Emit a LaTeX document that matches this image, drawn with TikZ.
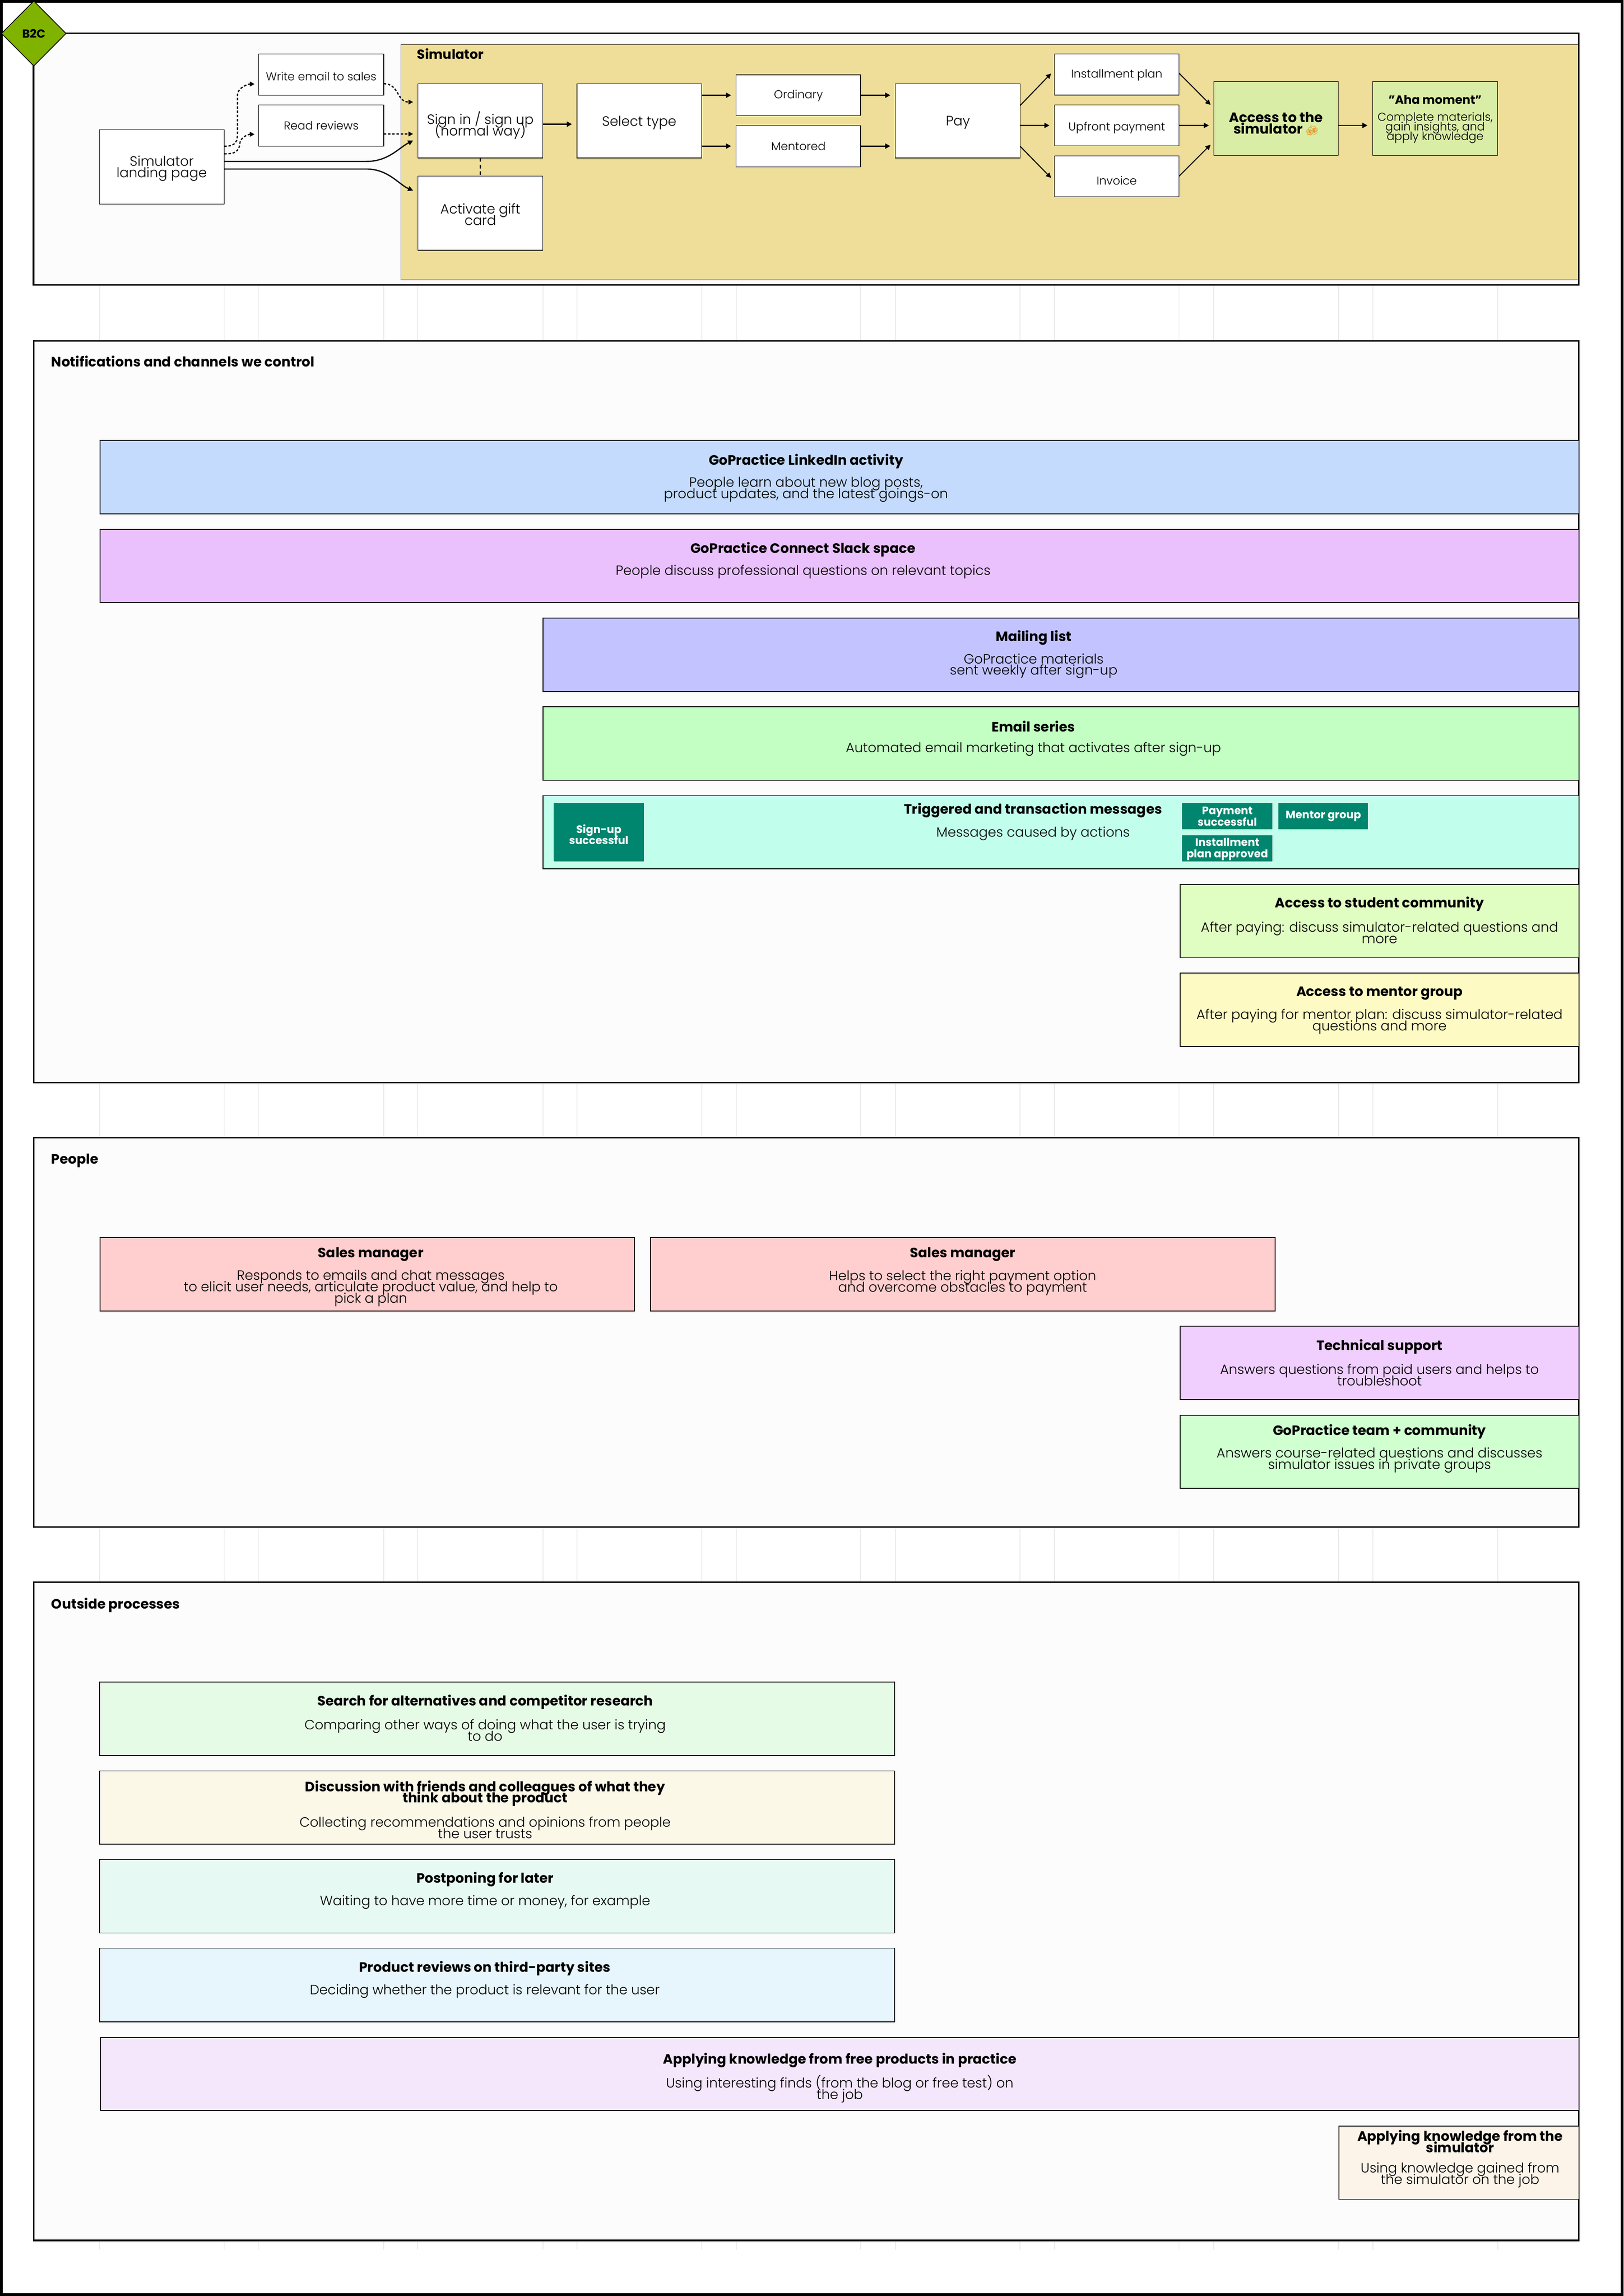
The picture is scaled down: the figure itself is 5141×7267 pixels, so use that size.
\documentclass[tikz,border=0pt]{standalone}
\usepackage{fontspec}
\setmainfont{Poppins}[UprightFont=* Light,BoldFont=* Bold]
\newfontfamily\emojifont{Noto Emoji}
\usetikzlibrary{arrows.meta,calc,shapes.geometric}
\definecolor{cframe}{HTML}{FCFCFC}
\definecolor{cfaint}{HTML}{EBEBEB}
\definecolor{csim}{HTML}{EEDE99}
\definecolor{cgood}{HTML}{DAEDA6}
\definecolor{cteal}{HTML}{00866E}
\definecolor{cdiam}{HTML}{7FB300}
\definecolor{cbeer}{HTML}{E39A2D}
\definecolor{c1}{HTML}{C4DBFD}
\definecolor{c2}{HTML}{EAC1FD}
\definecolor{c3}{HTML}{C3C4FF}
\definecolor{c4}{HTML}{C3FEC3}
\definecolor{c5}{HTML}{C1FEEB}
\definecolor{c6}{HTML}{E0FEC2}
\definecolor{c7}{HTML}{FDFAC3}
\definecolor{c8}{HTML}{FFCECE}
\definecolor{c9}{HTML}{F0CFFF}
\definecolor{c10}{HTML}{D0FFD0}
\definecolor{c11}{HTML}{E6FBE6}
\definecolor{c12}{HTML}{FCF8E8}
\definecolor{c13}{HTML}{E6FAF3}
\definecolor{c14}{HTML}{E6F6FC}
\definecolor{c15}{HTML}{F4E6FB}
\definecolor{c16}{HTML}{FCF4E9}
\newcommand{\tfs}[2]{\fontsize{#1}{#2}\selectfont\lineskiplimit=-100pt\relax}
\tikzset{
  x=0.01cm,y=-0.01cm,
  frame/.style={rectangle,draw=black,fill=cframe,line width=1.3pt,inner sep=0,outer sep=0},
  panel/.style={rectangle,draw=black,fill=csim,line width=0.4pt,inner sep=0,outer sep=0},
  wbox/.style={rectangle,draw=black,fill=white,line width=0.5pt,inner sep=0,outer sep=0},
  gbox/.style={rectangle,draw=black,fill=cgood,line width=0.4pt,inner sep=0,outer sep=0},
  cbox/.style={rectangle,draw=black,fill=#1,line width=0.8pt,inner sep=0,outer sep=0},
  tbox/.style={rectangle,draw=white,fill=cteal,line width=0.5pt,inner sep=0,outer sep=0},
  ftitle/.style={anchor=west,inner sep=0,yshift=-0.03cm,font=\tfs{12.2}{10.5}\bfseries},
  ltxt/.style={align=center,inner sep=0,yshift=-0.05cm,font=\tfs{12.2}{10.5}},
  stxt/.style={align=center,inner sep=0,yshift=-0.03cm,font=\tfs{10.3}{8.6}},
  ctitle/.style={align=center,inner sep=0,yshift=-0.045cm,font=\tfs{12.2}{10.2}\bfseries},
  cbody/.style={align=center,inner sep=0,yshift=-0.04cm,font=\tfs{12.1}{10.3}},
  ttxt/.style={align=center,inner sep=0,text=white,font=\tfs{9.7}{10}\bfseries},
  arr/.style={draw=black,line width=1.1pt,-{Triangle[length=4.6pt,width=4.6pt]}},
  darr/.style={draw=black,line width=1.1pt,dash pattern=on 2.2pt off 1.6pt,-{Triangle[length=4.2pt,width=4.2pt]}},
  dline/.style={draw=black,line width=0.9pt,dash pattern=on 3.4pt off 2.6pt},
  faint/.style={draw=cfaint,line width=0.8pt}
}
\newcommand{\bx}[6]{%
  \pgfmathsetmacro{\bxw}{(#5-#3)*0.01}%
  \pgfmathsetmacro{\bxh}{(#6-#4)*0.01}%
  \node[#1,minimum width=\bxw cm,minimum height=\bxh cm,anchor=north west] (#2) at (#3,#4) {};}
\begin{document}
\begin{tikzpicture}
\useasboundingbox (0,0) rectangle (5141,7267);
\fill[white] (0,0) rectangle (5141,7267);
\foreach \fx in {315,710,819,1215,1323,1719,1827,2222,2331,2725,2835,3230,3339,3733,3843,4238,4347,4742}
  \draw[faint] (\fx,903) -- (\fx,7120);
% outer border
\draw[black,line width=2.7pt] (4.5,4.5) rectangle (5136.5,7262.5);
% frames
\bx{frame}{fb}{106}{106}{4999}{902}
\bx{frame}{fn}{107}{1079}{4999}{3426}
\bx{frame}{fp}{107}{3601}{4999}{4833}
\bx{frame}{fo}{107}{5008}{4999}{7091}
\bx{panel}{simp}{1270}{140}{4998}{886}
\node[diamond,draw=black,fill=cdiam,line width=0.7pt,minimum width=2.05cm,minimum height=2.06cm,inner sep=0,aspect=1,font=\tfs{10.5}{10.5}\bfseries] (b2c) at (107,106) {B2C};
% journey boxes
\bx{wbox}{land}{315}{411}{710}{646}
\bx{wbox}{writ}{819}{171}{1215}{302}
\bx{wbox}{read}{819}{332}{1215}{463}
\bx{wbox}{sign}{1323}{265}{1719}{500}
\bx{wbox}{acti}{1323}{557}{1719}{792}
\bx{wbox}{sele}{1827}{265}{2222}{500}
\bx{wbox}{ordi}{2331}{237}{2725}{366}
\bx{wbox}{ment}{2331}{397}{2725}{528}
\bx{wbox}{pay}{2835}{265}{3230}{500}
\bx{wbox}{inst}{3339}{171}{3733}{301}
\bx{wbox}{upfr}{3339}{332}{3733}{462}
\bx{wbox}{invo}{3339}{493}{3733}{623}
\bx{gbox}{acce}{3843}{258}{4238}{492}
\bx{gbox}{aham}{4347}{258}{4742}{492}
% connectors
\draw[darr] ($(land.east)+(0,-65.5)$) .. controls ($(land.east)+(35,-65.5)$) and ($(land.east)+(42,-78)$) .. ($(land.east)+(42,-108)$) -- ($(land.east)+(42,-228)$) .. controls ($(land.east)+(42,-250)$) and ($(writ.west)+(-35,29.5)$) .. ($(writ.west)+(-13,29.5)$);
\draw[darr] ($(land.east)+(0,-41.5)$) .. controls ($(land.east)+(35,-41.5)$) and ($(land.east)+(47,-48)$) .. ($(land.east)+(50,-78)$) .. controls ($(land.east)+(53,-93)$) and ($(read.west)+(-35,27.5)$) .. ($(read.west)+(-13,27.5)$);
\draw[arr] ($(land.east)+(0,-17.5)$) -- ($(land.east)+(450,-17.5)$) .. controls ($(land.east)+(520,-17.5)$) and ($(sign.west)+(-60,85)$) .. ($(sign.west)+(-15,62.5)$);
\draw[arr] ($(land.east)+(0,6.5)$) -- ($(land.east)+(450,6.5)$) .. controls ($(land.east)+(520,6.5)$) and ($(acti.west)+(-60,-90)$) .. ($(acti.west)+(-15,-71.5)$);
\draw[darr] ($(writ.east)+(0,28.5)$) .. controls ($(writ.east)+(50,28.5)$) and ($(sign.west)+(-68,-59.5)$) .. ($(sign.west)+(-15,-59.5)$);
\draw[darr] ($(read.east)+(0,26.5)$) -- ($(sign.west)+(-15,41.5)$);
\draw[dline] (sign.south) -- (acti.north);
\draw[arr] ($(sign.east)+(0,10.5)$) -- ($(sele.west)+(-16,10.5)$);
\draw[arr] (sele.east |- ordi.west) -- ($(ordi.west)+(-16,0)$);
\draw[arr] (sele.east |- ment.west) -- ($(ment.west)+(-16,0)$);
\draw[arr] (ordi.east) -- ($(pay.west |- ordi.east)+(-16,0)$);
\draw[arr] (ment.east) -- ($(pay.west |- ment.east)+(-16,0)$);
\draw[arr,line width=0.9pt] ($(pay.east)+(0,-48.5)$) -- ($(inst.west)+(-11,-3.5)$);
\draw[arr] ($(pay.east)+(0,14.5)$) -- ($(upfr.west)+(-16,0)$);
\draw[arr,line width=0.9pt] ($(pay.east)+(0,80.5)$) -- ($(invo.west)+(-11,5)$);
\draw[arr,line width=0.9pt] ($(inst.east)+(0,-4.5)$) -- ($(acce.west)+(-10,-43)$);
\draw[arr] (upfr.east) -- ($(acce.west)+(-15,22)$);
\draw[arr,line width=0.9pt] ($(invo.east)+(0,0)$) -- ($(acce.west)+(-10,83)$);
\draw[arr] ($(acce.east)+(0,22)$) -- ($(aham.west)+(-17,22)$);
% journey labels
\node[ftitle,font=\tfs{11.8}{10.5}\bfseries] (tsim) at (1320,168) {Simulator};
\node[ltxt] (tland) at (512,528) {Simulator\\landing page};
\node[stxt] (twrit) at (1017,239) {Write email to sales};
\node[stxt] (tread) at (1017,394) {Read reviews};
\node[ltxt] (tsign) at (1521,392) {Sign in / sign up\\(normal way)};
\node[ltxt] (tacti) at (1521,674) {Activate gift\\card};
\node[ltxt] (tsele) at (2024,383) {Select type};
\node[stxt] (tordi) at (2528,300) {Ordinary};
\node[stxt] (tment) at (2528,460) {Mentored};
\node[ltxt] (tpay) at (3033,383) {Pay};
\node[stxt] (tinst) at (3536,235) {Installment plan};
\node[stxt] (tupfr) at (3536,401) {Upfront payment};
\node[stxt] (tinvo) at (3536,568) {Invoice};
\node[ltxt,yshift=-0.02cm,font=\tfs{12.4}{10.5}\bfseries] (tacce) at (4040,385) {Access to the\\simulator {\color{cbeer}\emojifont\mdseries\fontsize{9}{10.5}\selectfont 🍻}};
\node[stxt,font=\tfs{10.7}{8.6}\bfseries] (taha) at (4544,312) {"Aha moment"};
\node[stxt] (tahb) at (4544,402) {Complete materials,\\gain insights, and\\apply knowledge};
% notifications
\node[ftitle] (tn) at (162,1140) {Notifications and channels we control};
\bx{cbox=c1}{n1}{317}{1394}{5000}{1626}
\bx{cbox=c2}{n2}{317}{1676}{5000}{1907}
\bx{cbox=c3}{n3}{1719}{1956}{5000}{2189}
\bx{cbox=c4}{n4}{1719}{2237}{5000}{2470}
\bx{cbox=c5}{n5}{1719}{2518}{5000}{2750}
\bx{cbox=c6}{n6}{3736}{2799}{5000}{3031}
\bx{cbox=c7}{n7}{3736}{3080}{5000}{3312}
\node[ctitle] (n1t) at (2552,1456) {GoPractice LinkedIn activity};
\node[cbody] (n1b) at (2552,1546) {People learn about new blog posts,\\product updates, and the latest goings-on};
\node[ctitle] (n2t) at (2543,1734) {GoPractice Connect Slack space};
\node[cbody] (n2b) at (2543,1806) {People discuss professional questions on relevant topics};
\node[ctitle] (n3t) at (3273,2014) {Mailing list};
\node[cbody] (n3b) at (3273,2104) {GoPractice materials\\sent weekly after sign-up};
\node[ctitle] (n4t) at (3272,2295) {Email series};
\node[cbody] (n4b) at (3272,2367) {Automated email marketing that activates after sign-up};
\node[ctitle] (n5t) at (3271,2560) {Triggered and transaction messages};
\node[cbody] (n5b) at (3271,2634) {Messages caused by actions};
\bx{tbox}{t1}{1752}{2541}{2040}{2728}
\bx{tbox}{t2}{3742}{2541}{4030}{2626}
\bx{tbox}{t3}{4047}{2541}{4332}{2626}
\bx{tbox}{t4}{3742}{2643}{4030}{2728}
\node[ttxt] (t1t) at (1896,2641) {Sign-up\\successful};
\node[ttxt] (t2t) at (3886,2584) {Payment\\successful};
\node[ttxt] (t3t) at (4190,2583) {Mentor group};
\node[ttxt] (t4t) at (3886,2688) {Installment\\plan approved};
\node[ctitle] (n6t) at (4368,2856) {Access to student community};
\node[cbody] (n6b) at (4368,2948) {After paying: discuss simulator-related questions and\\more};
\node[ctitle] (n7t) at (4368,3139) {Access to mentor group};
\node[cbody] (n7b) at (4368,3230) {After paying for mentor plan: discuss simulator-related\\questions and more};
% people
\node[ftitle] (tp) at (162,3671) {People};
\bx{cbox=c8}{p1}{317}{3917}{2008}{4150}
\bx{cbox=c8}{p2}{2060}{3917}{4037}{4150}
\bx{cbox=c9}{p3}{3737}{4198}{5000}{4430}
\bx{cbox=c10}{p4}{3737}{4479}{5000}{4711}
\node[ctitle] (p1t) at (1174,3965) {Sales manager};
\node[cbody] (p1b) at (1174,4073) {Responds to emails and chat messages\\to elicit user needs, articulate product value, and help to\\pick a plan};
\node[ctitle] (p2t) at (3048,3965) {Sales manager};
\node[cbody] (p2b) at (3048,4056) {Helps to select the right payment option\\and overcome obstacles to payment};
\node[ctitle] (p3t) at (4368,4257) {Technical support};
\node[cbody] (p3b) at (4368,4347) {Answers questions from paid users and helps to\\troubleshoot};
\node[ctitle] (p4t) at (4368,4527) {GoPractice team + community};
\node[cbody] (p4b) at (4368,4617) {Answers course-related questions and discusses\\simulator issues in private groups};
% outside
\node[ftitle] (to) at (162,5077) {Outside processes};
\bx{cbox=c11}{o1}{316}{5324}{2833}{5556}
\bx{cbox=c12}{o2}{316}{5605}{2833}{5837}
\bx{cbox=c13}{o3}{316}{5885}{2833}{6118}
\bx{cbox=c14}{o4}{316}{6166}{2833}{6399}
\bx{cbox=c15}{o5}{318}{6448}{5000}{6680}
\bx{cbox=c16}{o6}{4239}{6729}{5000}{6961}
\node[ctitle] (o1t) at (1536,5382) {Search for alternatives and competitor research};
\node[cbody] (o1b) at (1536,5473) {Comparing other ways of doing what the user is trying\\to do};
\node[ctitle] (o2t) at (1536,5672) {Discussion with friends and colleagues of what they\\think about the product};
\node[cbody] (o2b) at (1536,5781) {Collecting recommendations and opinions from people\\the user trusts};
\node[ctitle] (o3t) at (1536,5944) {Postponing for later};
\node[cbody] (o3b) at (1536,6016) {Waiting to have more time or money, for example};
\node[ctitle] (o4t) at (1535,6226) {Product reviews on third-party sites};
\node[cbody] (o4b) at (1535,6298) {Deciding whether the product is relevant for the user};
\node[ctitle] (o5t) at (2659,6517) {Applying knowledge from free products in practice};
\node[cbody] (o5b) at (2659,6607) {Using interesting finds (from the blog or free test) on\\the job};
\node[ctitle] (o6t) at (4623,6773) {Applying knowledge from the\\simulator};
\node[cbody] (o6b) at (4623,6880) {Using knowledge gained from\\the simulator on the job};
\end{tikzpicture}
\end{document}
